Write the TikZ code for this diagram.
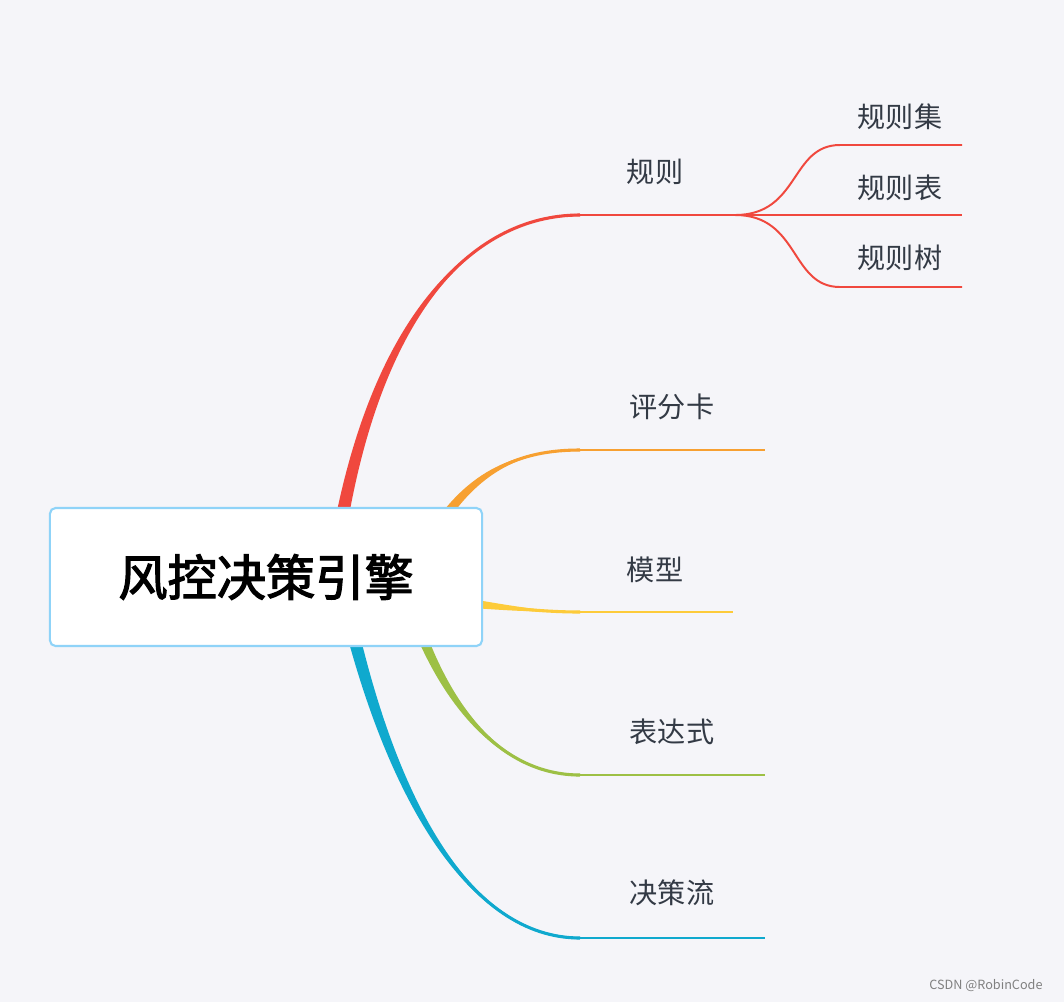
\documentclass[tikz,border=0pt]{standalone}
\usepackage{fontspec}
\setmainfont{Noto Sans CJK SC}
\newfontfamily\cjkbold{Noto Sans CJK SC}[FakeBold=2.5]
\usetikzlibrary{positioning,calc}
\definecolor{bg}{HTML}{F5F5F9}
\definecolor{rootline}{HTML}{8FD3F8}
\definecolor{cRed}{HTML}{F0483E}
\definecolor{cOrange}{HTML}{F7A031}
\definecolor{cYellow}{HTML}{FDCB3A}
\definecolor{cGreen}{HTML}{9DC045}
\definecolor{cBlue}{HTML}{0FA9CE}
\definecolor{txt}{HTML}{333A45}
% tapered limb: colour, start, control 1, control 2, end, half width at start
\newcommand\limb[6]{\fill[#1] ($(#2)+(#6)$) .. controls ($(#3)+0.6*(#6)$) and ($(#4)+0.2*(#6)$) .. ($(#5)+(0,-1.2)$)
  -- ($(#5)+(0,1.2)$) .. controls ($(#4)-0.2*(#6)$) and ($(#3)-0.6*(#6)$) .. ($(#2)-(#6)$) -- cycle;
  \draw[#1,line width=2.2pt] (#2) .. controls (#3) and (#4) .. (#5);}
\begin{document}
\begin{tikzpicture}[x=0.025cm,y=-0.025cm]
\tikzstyle{ramo}=[line width=1.4pt]
\tikzstyle{etiq}=[text=txt,font=\fontsize{20}{22}\selectfont,inner sep=0pt]
\fill[bg] (0,0) rectangle (1064,1002);
\useasboundingbox (0,0) rectangle (1064,1002);
% branch ends
\coordinate (rR) at (580,215); \coordinate (tR) at (735,215);
\coordinate (rO) at (580,450); \coordinate (tO) at (765,450);
\coordinate (rY) at (580,612); \coordinate (tY) at (733,612);
\coordinate (rG) at (580,775); \coordinate (tG) at (765,775);
\coordinate (rB) at (580,938); \coordinate (tB) at (765,938);
\coordinate (sA) at (840,145); \coordinate (eA) at (962,145);
\coordinate (eB) at (962,215);
\coordinate (sC) at (840,287); \coordinate (eC) at (962,287);
% limbs
\limb{cRed}{335,560}{370,320}{470,215}{rR}{7,0}
\limb{cOrange}{430,540}{470,470}{520,450}{rO}{4,4}
\limb{cYellow}{460,602}{500,607}{540,612}{rY}{0,5}
\limb{cGreen}{412,610}{450,720}{510,775}{rG}{6,0}
\limb{cBlue}{345,600}{390,800}{470,938}{rB}{7,0}
\draw[ramo,cRed] (rR) -- (tR);
\draw[ramo,cOrange] (rO) -- (tO);
\draw[ramo,cYellow] (rY) -- (tY);
\draw[ramo,cGreen] (rG) -- (tG);
\draw[ramo,cBlue] (rB) -- (tB);
\draw[ramo,cRed] (tR) .. controls (800,215) and (790,145) .. (sA) -- (eA);
\draw[ramo,cRed] (tR) -- (eB);
\draw[ramo,cRed] (tR) .. controls (800,215) and (790,287) .. (sC) -- (eC);
% root
\node[draw=rootline,line width=1.5pt,fill=white,rounded corners=4pt,minimum width=10.8cm,
  minimum height=3.45cm] (root) at (266,577) {\cjkbold\fontsize{35}{38}\selectfont 风控决策引擎};
% labels
\node[etiq] (lR) at (655,172) {规则};
\node[etiq] (lO) at (672,407) {评分卡};
\node[etiq] (lY) at (655,570) {模型};
\node[etiq] (lG) at (672,732) {表达式};
\node[etiq] (lB) at (672,893) {决策流};
\node[etiq] (lA) at (900,117) {规则集};
\node[etiq] (lBB) at (900,188) {规则表};
\node[etiq] (lC) at (900,258) {规则树};
\node[text=gray,font=\fontsize{9}{10}\selectfont,inner sep=0pt] (mark) at (986,986) {CSDN @RobinCode};
\end{tikzpicture}
\end{document}
